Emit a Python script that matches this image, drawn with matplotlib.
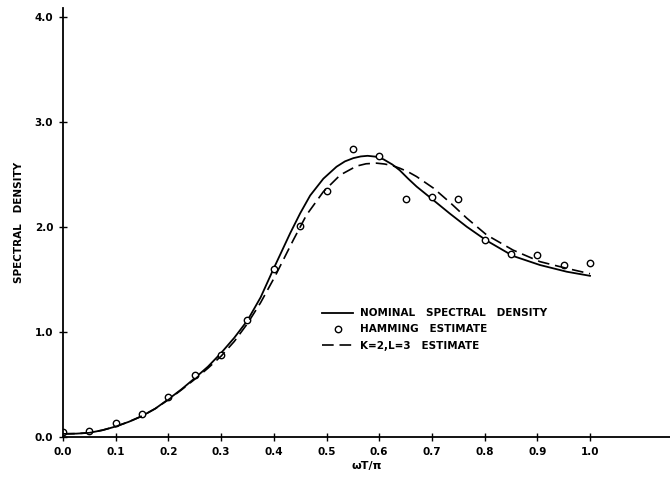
import matplotlib
matplotlib.use("Agg")
import matplotlib.pyplot as plt

# Hamming estimate points
ham_x = [0.0, 0.05, 0.10, 0.15, 0.20, 0.25, 0.30, 0.35, 0.40, 0.45, 0.50,
         0.55, 0.60, 0.65, 0.70, 0.75, 0.80, 0.85, 0.90, 0.95, 1.00]
ham_y = [0.05, 0.06, 0.13, 0.22, 0.38, 0.59, 0.78, 1.11, 1.60, 2.01, 2.34,
         2.74, 2.68, 2.27, 2.29, 2.27, 1.88, 1.74, 1.73, 1.64, 1.66]

# Nominal spectral density (solid)
nom_x = [0.0, 0.025, 0.05, 0.075, 0.10, 0.125, 0.15, 0.175, 0.20, 0.225, 0.25,
         0.275, 0.30, 0.325, 0.35, 0.375, 0.40, 0.431, 0.45, 0.469, 0.494,
         0.519, 0.535, 0.551, 0.565, 0.578, 0.593, 0.608, 0.625, 0.639, 0.655,
         0.671, 0.703, 0.734, 0.766, 0.804, 0.854, 0.905, 0.956, 1.0]
nom_y = [0.03, 0.032, 0.04, 0.065, 0.10, 0.145, 0.20, 0.27, 0.36, 0.455, 0.56,
         0.67, 0.80, 0.945, 1.11, 1.33, 1.607, 1.94, 2.13, 2.30, 2.46,
         2.574, 2.625, 2.656, 2.672, 2.678, 2.67, 2.645, 2.595, 2.54, 2.46,
         2.385, 2.255, 2.128, 2.003, 1.87, 1.724, 1.638, 1.574, 1.535]

# K=2, L=3 estimate (dashed)
est_x = [0.0, 0.025, 0.05, 0.075, 0.10, 0.125, 0.15, 0.175, 0.20, 0.225, 0.25,
         0.275, 0.30, 0.325, 0.35, 0.375, 0.402, 0.437, 0.462, 0.494, 0.526,
         0.557, 0.575, 0.595, 0.61, 0.625, 0.639, 0.655, 0.671, 0.703, 0.734,
         0.766, 0.804, 0.854, 0.905, 0.956, 1.0]
est_y = [0.03, 0.032, 0.04, 0.065, 0.10, 0.145, 0.20, 0.27, 0.355, 0.45, 0.55,
         0.655, 0.77, 0.91, 1.08, 1.28, 1.527, 1.876, 2.114, 2.336, 2.495,
         2.58, 2.602, 2.608, 2.6, 2.585, 2.56, 2.525, 2.48, 2.37, 2.235,
         2.085, 1.924, 1.78, 1.67, 1.606, 1.555]

x_ticks = [0.0, 0.1, 0.2, 0.3, 0.4, 0.5, 0.6, 0.7, 0.8, 0.9, 1.0]
x_labels = ["0.0", "0.1", "0.2", "0.3", "0.4", "0.5", "0.6", "0.7", "0.8", "0.9", "1.0"]
y_ticks = [0.0, 1.0, 2.0, 3.0, 4.0]
y_labels = ["0.0", "1.0", "2.0", "3.0", "4.0"]

plt.rcParams['font.family'] = ['DejaVu Sans']

fig = plt.figure(figsize=(6.70, 4.78), dpi=100)
ax = fig.add_axes([63/670, 41/478, 607/670, 429/478])

ax.plot(nom_x, nom_y, color='black', lw=1.3, label='NOMINAL   SPECTRAL   DENSITY')
ax.plot(ham_x, ham_y, linestyle='none', marker='o', markersize=4.6,
        markerfacecolor='white', markeredgecolor='black', markeredgewidth=1.0,
        label='HAMMING   ESTIMATE')
ax.plot(est_x, est_y, color='black', lw=1.2, dashes=(7, 3.5),
        label='K=2,L=3   ESTIMATE')

ax.set_xlim(0, 607/527)
ax.set_ylim(0, 429/105)

for s in ['top', 'right']:
    ax.spines[s].set_visible(False)
ax.spines['left'].set_linewidth(1.3)
ax.spines['bottom'].set_linewidth(1.3)

ax.set_xticks(x_ticks)
ax.set_xticklabels(x_labels, fontweight='bold')
ax.set_yticks(y_ticks)
ax.set_yticklabels(y_labels, fontweight='bold')
ax.tick_params(direction='inout', length=6, width=1.0, labelsize=7.5, pad=4)

ax.set_xlabel('ωT/π', fontsize=8, fontweight='bold', labelpad=3)
ax.set_ylabel('SPECTRAL   DENSITY', fontsize=7.5, fontweight='bold', labelpad=8)

leg = ax.legend(loc='upper left', bbox_to_anchor=(255/607, 1 - (304-8)/429),
                frameon=False, prop={'size': 7.5, 'weight': 'bold'},
                handlelength=3.0, handletextpad=0.6,
                labelspacing=0.6, borderaxespad=0)

fig.savefig('out.png', dpi=100)
